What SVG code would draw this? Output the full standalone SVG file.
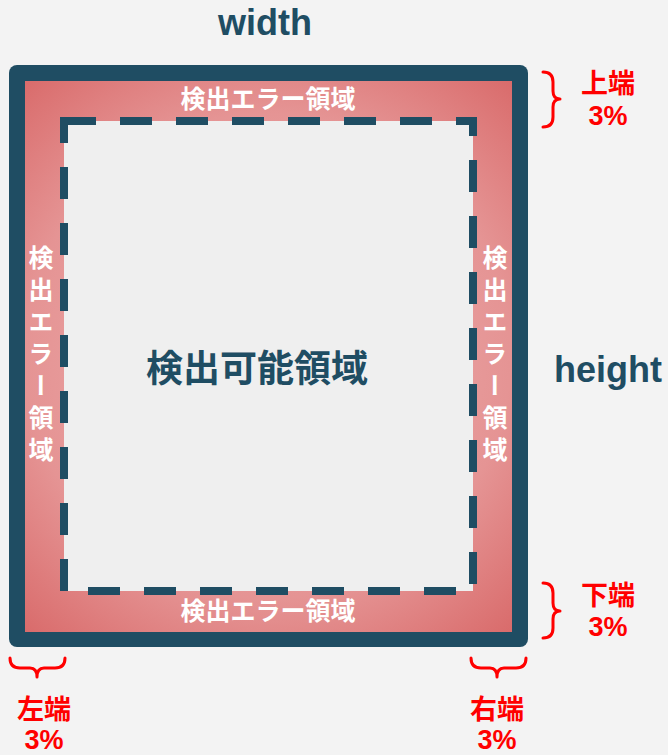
<svg xmlns="http://www.w3.org/2000/svg" width="668" height="755" viewBox="0 0 668 755">
  <defs>
    <radialGradient id="redGrad" gradientUnits="userSpaceOnUse" cx="268" cy="356" r="368">
      <stop offset="0" stop-color="#eeb0b0"/>
      <stop offset="0.66" stop-color="#e59494"/>
      <stop offset="1" stop-color="#d96b6b"/>
    </radialGradient>
    <style>
      .dark { fill: #1f4d63; }
      .lat { font-family: "Liberation Sans", Arial, sans-serif; font-weight: bold; }
      .cjk { font-family: "Noto Sans CJK JP", "Noto Sans", sans-serif; font-weight: bold; }
      .white { fill: #ffffff; }
      .red { fill: #ff0000; }
      .brace { fill: none; stroke: #ff0000; stroke-width: 3; stroke-linecap: round; stroke-linejoin: round; }
      .dash { fill: #efefef; stroke: #1f4d63; stroke-width: 8; stroke-dasharray: 32 24; }
    </style>
  </defs>
  <rect x="0" y="0" width="668" height="755" fill="#f3f3f3"/>

  <g id="frame">
    <rect x="9" y="65" width="519" height="582" rx="8" ry="8" class="dark"/>
    <rect x="25" y="81" width="487" height="551" fill="url(#redGrad)"/>
  </g>

  <g id="detectable-area">
    <path d="M64,121 L473,121 L473,591 L64,591 Z" class="dash"/>
    <text x="257" y="366" class="cjk" font-size="37" fill="#1f4d63" text-anchor="middle" dominant-baseline="central">検出可能領域</text>
  </g>

  <g id="error-top">
    <text x="268" y="97" class="cjk white" font-size="25" text-anchor="middle" dominant-baseline="central">検出エラー領域</text>
  </g>
  <g id="error-bottom">
    <text x="268" y="609" class="cjk white" font-size="25" text-anchor="middle" dominant-baseline="central">検出エラー領域</text>
  </g>
  <g id="error-left">
    <text x="41" y="357" class="cjk white" font-size="25" letter-spacing="7" text-anchor="middle" style="writing-mode: vertical-rl;">検出エラー領域</text>
  </g>
  <g id="error-right">
    <text x="495" y="357" class="cjk white" font-size="25" letter-spacing="7" text-anchor="middle" style="writing-mode: vertical-rl;">検出エラー領域</text>
  </g>

  <g id="width-label">
    <text x="265" y="35" class="lat" font-size="36" fill="#1f4d63" text-anchor="middle">width</text>
  </g>
  <g id="height-label">
    <text x="608" y="382" class="lat" font-size="36" fill="#1f4d63" text-anchor="middle">height</text>
  </g>

  <g id="connectors">
    <path class="brace" d="M543,72 Q553,72 553,82 L553,91 Q553,99 560,99 Q553,99 553,107 L553,117 Q553,127 543,127"/>
    <path class="brace" d="M543,583 Q553,583 553,593 L553,603 Q553,611 560,611 Q553,611 553,619 L553,628 Q553,638 543,638"/>
    <path class="brace" d="M10,658 Q10,668 20,668 L30,668 Q37,668 37,677 Q37,668 44,668 L55,668 Q65,668 65,658"/>
    <path class="brace" d="M471,658 Q471,668 481,668 L490,668 Q497,668 497,677 Q497,668 504,668 L516,668 Q526,668 526,658"/>
  </g>

  <g id="label-top">
    <text x="608" y="81" class="cjk red" font-size="27" text-anchor="middle" dominant-baseline="central">上端</text>
    <text x="608" y="116" class="lat red" font-size="27" text-anchor="middle" dominant-baseline="central">3%</text>
  </g>
  <g id="label-bottom">
    <text x="608" y="593" class="cjk red" font-size="27" text-anchor="middle" dominant-baseline="central">下端</text>
    <text x="608" y="627" class="lat red" font-size="27" text-anchor="middle" dominant-baseline="central">3%</text>
  </g>
  <g id="label-left">
    <text x="44" y="707" class="cjk red" font-size="27" text-anchor="middle" dominant-baseline="central">左端</text>
    <text x="44" y="740" class="lat red" font-size="27" text-anchor="middle" dominant-baseline="central">3%</text>
  </g>
  <g id="label-right">
    <text x="497" y="707" class="cjk red" font-size="27" text-anchor="middle" dominant-baseline="central">右端</text>
    <text x="497" y="740" class="lat red" font-size="27" text-anchor="middle" dominant-baseline="central">3%</text>
  </g>
</svg>
